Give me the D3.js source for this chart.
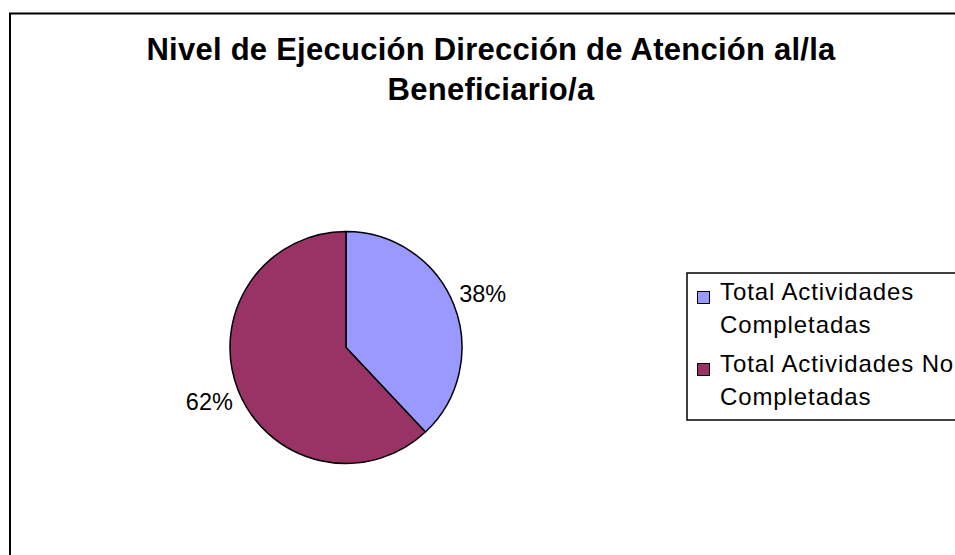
<!DOCTYPE html>
<html>
<head>
<meta charset="utf-8">
<script src="https://cdn.jsdelivr.net/npm/d3@7"></script>
<style>
  body { margin: 0; background: #fff; }
  svg { display: block; font-family: "Liberation Sans", Arial, sans-serif; }
</style>
</head>
<body>
<svg class="pie" width="955" height="555"></svg>
<script>
// Chart data
const titleLines = ["Nivel de Ejecución Dirección de Atención al/la", "Beneficiario/a"];
const categories = ["Total Actividades Completadas", "Total Actividades No Completadas"];
const legendLines = [["Total Actividades", "Completadas"], ["Total Actividades No", "Completadas"]];
const values = [38, 62];
const colors = ["#9999FF", "#993366"];

const svg = d3.select(".pie");

// Outer frame (runs off the right and bottom edges)
svg.append("rect")
    .attr("x", 10)
    .attr("y", 13.5)
    .attr("width", 980)
    .attr("height", 580)
    .attr("fill", "none")
    .attr("stroke", "#000")
    .attr("stroke-width", 2);

// Title
svg.append("text")
    .attr("x", 491)
    .attr("y", 60)
    .attr("text-anchor", "middle")
    .attr("font-size", 31)
    .attr("letter-spacing", 0.25)
    .attr("font-weight", "bold")
    .selectAll("tspan")
    .data(titleLines)
    .enter().append("tspan")
    .attr("x", 491)
    .attr("dy", (d, i) => i === 0 ? 0 : 40)
    .text(d => d);

const data = categories.map((c, i) => ({ name: c, value: values[i] }));
const total = d3.sum(values);

const color = d3.scaleOrdinal().domain(categories).range(colors);

const cx = 346, cy = 347.5, radius = 116;
const g = svg.append("g").attr("transform", `translate(${cx},${cy})`);

const pie = d3.pie().sort(null).value(d => d.value);
const arc = d3.arc().innerRadius(0).outerRadius(radius);
const labelArc = d3.arc().innerRadius(147).outerRadius(147);

// Slices
g.selectAll(".slice")
    .data(pie(data))
    .enter().append("path")
    .attr("class", "slice")
    .attr("d", arc)
    .attr("fill", d => color(d.data.name))
    .attr("stroke", "#000")
    .attr("stroke-width", 1.5)
    .attr("stroke-linejoin", "round");

// Percent labels
g.selectAll(".label")
    .data(pie(data))
    .enter().append("text")
    .attr("class", "label")
    .attr("transform", d => `translate(${labelArc.centroid(d)})`)
    .attr("text-anchor", "middle")
    .attr("dy", "0.35em")
    .attr("font-size", 23.5)
    .text(d => Math.round(d.data.value / total * 100) + "%");

// Legend box (also runs off the right edge)
const legend = svg.append("g").attr("transform", "translate(687,273)");
legend.append("rect")
    .attr("width", 300)
    .attr("height", 147)
    .attr("fill", "#fff")
    .attr("stroke", "#000")
    .attr("stroke-width", 1.5);

const item = legend.selectAll(".item")
    .data(data)
    .enter().append("g")
    .attr("class", "item")
    .attr("transform", (d, i) => `translate(0,${i * 72})`);

item.append("rect")
    .attr("x", 10.5)
    .attr("y", 18.5)
    .attr("width", 12)
    .attr("height", 12)
    .attr("fill", d => color(d.name))
    .attr("stroke", "#000")
    .attr("stroke-width", 1);

item.append("text")
    .attr("font-size", 24)
    .attr("letter-spacing", 0.9)
    .selectAll("tspan")
    .data((d, i) => legendLines[i])
    .enter().append("tspan")
    .attr("x", 33)
    .attr("y", (d, j) => 27 + j * 33)
    .text(d => d);
</script>
</body>
</html>
